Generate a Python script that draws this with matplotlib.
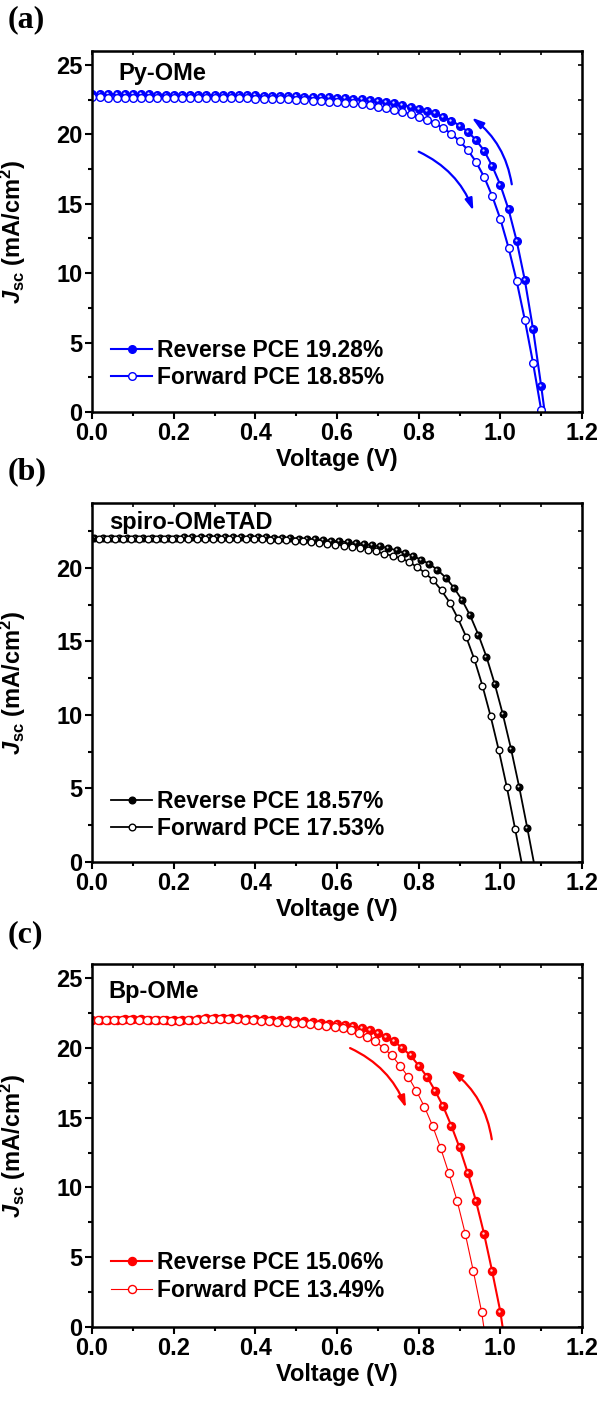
import matplotlib
matplotlib.use("Agg")
import numpy as np
import matplotlib.pyplot as plt
from matplotlib.ticker import MultipleLocator
from matplotlib.transforms import offset_copy

plt.rcParams['font.family'] = ['Liberation Sans', 'DejaVu Sans']
plt.rcParams['font.weight'] = 'bold'
plt.rcParams['axes.labelweight'] = 'bold'
plt.rcParams['mathtext.fontset'] = 'custom'
plt.rcParams['mathtext.rm'] = 'Liberation Sans:bold'
plt.rcParams['mathtext.it'] = 'Liberation Sans:italic:bold'
plt.rcParams['mathtext.bf'] = 'Liberation Sans:bold'

# sweep voltages (V)
volts = [0.00, 0.02, 0.04, 0.06, 0.08, 0.10, 0.12, 0.14, 0.16, 0.18,
         0.20, 0.22, 0.24, 0.26, 0.28, 0.30, 0.32, 0.34, 0.36, 0.38,
         0.40, 0.42, 0.44, 0.46, 0.48, 0.50, 0.52, 0.54, 0.56, 0.58,
         0.60, 0.62, 0.64, 0.66, 0.68, 0.70, 0.72, 0.74, 0.76, 0.78,
         0.80, 0.82, 0.84, 0.86, 0.88, 0.90, 0.92, 0.94, 0.96, 0.98,
         1.00, 1.02, 1.04, 1.06, 1.08, 1.10, 1.12, 1.14]

# (a) Py-OMe, J (mA/cm2)
a_rev = [22.90, 22.90, 22.89, 22.89, 22.88, 22.88, 22.87, 22.87, 22.86, 22.86,
         22.85, 22.85, 22.84, 22.84, 22.83, 22.83, 22.82, 22.82, 22.81, 22.81,
         22.80, 22.79, 22.78, 22.77, 22.76, 22.74, 22.72, 22.70, 22.68, 22.66,
         22.64, 22.61, 22.57, 22.52, 22.46, 22.42, 22.34, 22.24, 22.12, 21.99,
         21.85, 21.69, 21.50, 21.27, 20.99, 20.63, 20.20, 19.60, 18.83, 17.72,
         16.35, 14.60, 12.32, 9.49, 5.98, 1.87, -2.50]
a_fwd = [22.66, 22.66, 22.65, 22.65, 22.65, 22.64, 22.64, 22.64, 22.63, 22.63,
         22.63, 22.62, 22.62, 22.62, 22.61, 22.61, 22.60, 22.60, 22.59, 22.58,
         22.57, 22.56, 22.55, 22.53, 22.51, 22.49, 22.46, 22.43, 22.40, 22.36,
         22.32, 22.27, 22.22, 22.16, 22.09, 22.00, 21.89, 21.76, 21.61, 21.45,
         21.27, 21.05, 20.79, 20.45, 20.03, 19.52, 18.88, 18.03, 16.95, 15.56,
         13.90, 11.84, 9.42, 6.63, 3.55, 0.14, -3.40]

# (b) spiro-OMeTAD
b_rev = [22.02, 22.03, 22.03, 22.04, 22.04, 22.05, 22.05, 22.05, 22.06, 22.06,
         22.06, 22.07, 22.07, 22.08, 22.08, 22.09, 22.09, 22.10, 22.10, 22.10,
         22.09, 22.08, 22.06, 22.04, 22.02, 21.99, 21.96, 21.93, 21.89, 21.85,
         21.80, 21.75, 21.69, 21.62, 21.54, 21.45, 21.35, 21.18, 21.00, 20.82,
         20.54, 20.27, 19.86, 19.34, 18.66, 17.82, 16.76, 15.46, 13.95, 12.13,
         10.05, 7.71, 5.12, 2.31, -0.60]
b_fwd = [21.95, 21.95, 21.95, 21.95, 21.96, 21.96, 21.96, 21.96, 21.96, 21.97,
         21.97, 21.97, 21.97, 21.97, 21.97, 21.97, 21.97, 21.96, 21.96, 21.95,
         21.94, 21.93, 21.91, 21.89, 21.86, 21.83, 21.79, 21.75, 21.70, 21.64,
         21.58, 21.51, 21.43, 21.34, 21.24, 21.12, 20.95, 20.82, 20.66, 20.41,
         20.05, 19.64, 19.14, 18.46, 17.64, 16.57, 15.33, 13.81, 12.00, 9.93,
         7.62, 5.08, 2.27, -0.60]

# (c) Bp-OMe
c_rev = [22.00, 22.01, 22.02, 22.02, 22.03, 22.03, 22.03, 22.02, 22.02, 22.01,
         22.00, 22.00, 22.02, 22.06, 22.10, 22.14, 22.16, 22.16, 22.12, 22.08,
         22.05, 22.03, 22.01, 21.99, 21.97, 21.94, 21.90, 21.86, 21.80, 21.74,
         21.70, 21.62, 21.53, 21.42, 21.25, 21.08, 20.76, 20.46, 19.98, 19.45,
         18.73, 17.94, 16.93, 15.80, 14.41, 12.86, 11.06, 9.06, 6.69, 3.98,
         1.10, -2.90]
c_fwd = [21.95, 21.96, 21.97, 21.97, 21.98, 21.98, 21.98, 21.97, 21.97, 21.96,
         21.95, 21.95, 21.96, 22.00, 22.04, 22.07, 22.08, 22.07, 22.04, 22.00,
         21.97, 21.94, 21.91, 21.88, 21.84, 21.80, 21.75, 21.69, 21.62, 21.54,
         21.50, 21.40, 21.26, 21.08, 20.74, 20.46, 19.98, 19.45, 18.73, 17.94,
         16.93, 15.78, 14.41, 12.80, 11.00, 9.06, 6.69, 3.98, 1.10, -2.90]

labels_a = ['Reverse PCE 19.28%', 'Forward PCE 18.85%']
labels_b = ['Reverse PCE 18.57%', 'Forward PCE 17.53%']
labels_c = ['Reverse PCE 15.06%', 'Forward PCE 13.49%']

fig = plt.figure(figsize=(6.03, 14.01), dpi=100)
ax_a = fig.add_axes([0.1526, 0.7059, 0.8126, 0.2577])
ax_b = fig.add_axes([0.1526, 0.3847, 0.8126, 0.2562])
ax_c = fig.add_axes([0.1526, 0.0528, 0.8126, 0.2591])


def curve(ax, j, shift, color, filled, lw, ms, label):
    v = np.array(volts[:len(j)]) + shift
    ax.plot(v, j, '-o', color=color, lw=lw, ms=ms, mew=1.0,
            mfc=color if filled else 'white', mec=color, label=label)
    if filled:
        # little shine on the balls
        shine = offset_copy(ax.transData, fig=fig, x=-1.0, y=1.0, units='dots')
        ax.plot(v, j, 'o', ms=ms * 0.3, mew=0, color='white', alpha=0.85,
                transform=shine)


def style(ax, ytop, name, name_xy, leg_anchor):
    ax.set_xlim(0, 1.2)
    ax.set_ylim(0, ytop)
    ax.xaxis.set_major_locator(MultipleLocator(0.2))
    ax.xaxis.set_minor_locator(MultipleLocator(0.1))
    ax.yaxis.set_major_locator(MultipleLocator(5))
    ax.yaxis.set_minor_locator(MultipleLocator(2.5))
    ax.tick_params(which='both', direction='out', width=1.5, labelsize=17,
                   top=False, right=False, pad=2)
    ax.tick_params(which='major', length=5)
    ax.tick_params(which='minor', length=3)
    sx = ax.secondary_xaxis('top')
    sx.tick_params(which='both', direction='in', labeltop=False, width=1.2, length=3)
    sx.xaxis.set_minor_locator(MultipleLocator(0.1))
    sy = ax.secondary_yaxis('right')
    sy.tick_params(which='both', direction='in', labelright=False, width=1.2, length=3)
    sy.yaxis.set_minor_locator(MultipleLocator(2.5))
    for s in ax.spines.values():
        s.set_linewidth(1.8)
    ax.set_xlabel('Voltage (V)', fontsize=17)
    ax.xaxis.set_label_coords(0.5, -0.1)
    ax.set_ylabel(r'$J_{\mathrm{sc}}$ (mA/cm$^{\mathrm{2}}$)', fontsize=17)
    ax.yaxis.set_label_coords(-0.13, 0.5)
    ax.text(name_xy[0], name_xy[1], name, transform=ax.transAxes, fontsize=17,
            fontweight='bold', va='center')
    ax.legend(loc='lower left', bbox_to_anchor=leg_anchor, frameon=False,
              fontsize=16.5, handlelength=1.8, handletextpad=0.2,
              labelspacing=0.2, borderaxespad=0)


def arrow(ax, tail, head, rad, color):
    ax.annotate('', xy=head, xytext=tail,
                arrowprops=dict(arrowstyle='-|>,head_length=0.7,head_width=0.22',
                                connectionstyle='arc3,rad=%s' % rad,
                                color=color, lw=1.6, shrinkA=0, shrinkB=0))


blue = '#0000ff'
red = '#ff0000'

curve(ax_a, a_rev, 0.0, blue, True, 1.5, 5.5, labels_a[0])
curve(ax_a, a_fwd, 0.0, blue, False, 1.5, 5.5, labels_a[1])
style(ax_a, 26, 'Py-OMe', (0.053, 0.939), (0.02, 0.038))
arrow(ax_a, (1.028, 16.4), (0.93, 21.2), 0.2, blue)
arrow(ax_a, (0.80, 18.75), (0.934, 14.5), -0.2, blue)

curve(ax_b, b_rev, 0.006, 'black', True, 1.3, 4.8, labels_b[0])
curve(ax_b, b_fwd, -0.004, 'black', False, 1.3, 4.8, labels_b[1])
style(ax_b, 24.4, 'spiro-OMeTAD', (0.035, 0.947), (0.02, 0.035))

curve(ax_c, c_rev, 0.0, red, True, 1.5, 5.8, labels_c[0])
curve(ax_c, c_fwd, -0.006, red, False, 0.8, 5.8, labels_c[1])
style(ax_c, 26, 'Bp-OMe', (0.033, 0.923), (0.02, 0.045))
arrow(ax_c, (0.979, 13.45), (0.879, 18.4), 0.2, red)
arrow(ax_c, (0.632, 19.98), (0.769, 15.7), -0.2, red)

for lab, y in [('(a)', 0.986), ('(b)', 0.663), ('(c)', 0.333)]:
    fig.text(0.012, y, lab, fontsize=23, fontweight='bold',
             family='Liberation Serif', va='center')

fig.savefig('out.png', dpi=100)
